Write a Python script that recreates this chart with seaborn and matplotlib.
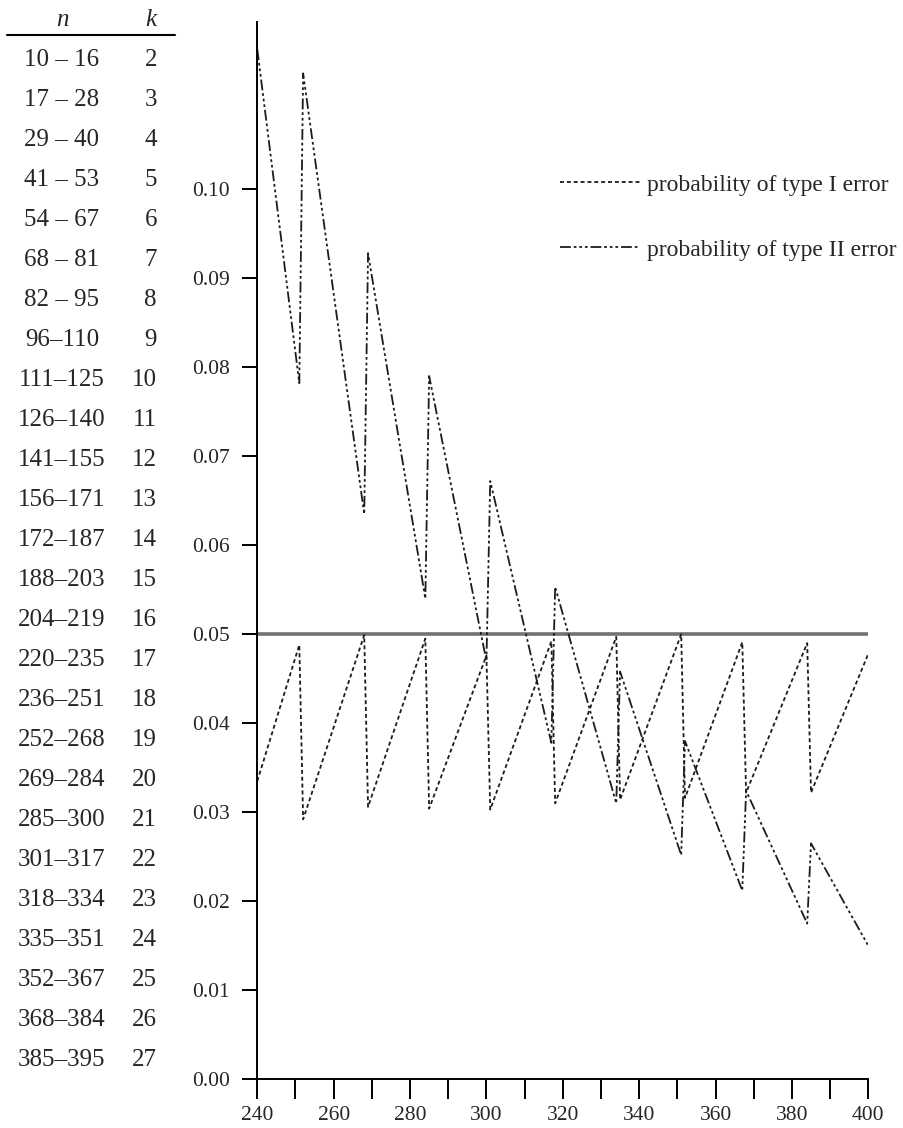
import numpy as np
import pandas as pd
import seaborn as sns
import matplotlib
matplotlib.use('Agg')
from matplotlib import pyplot as plt

# table of sample sizes n and critical values k
n_ranges = ['10 – 16', '17 – 28', '29 – 40', '41 – 53', '54 – 67', '68 – 81', '82 – 95',
            '96–110', '111–125', '126–140', '141–155', '156–171', '172–187', '188–203',
            '204–219', '220–235', '236–251', '252–268', '269–284', '285–300', '301–317',
            '318–334', '335–351', '352–367', '368–384', '385–395']
k_values = [2, 3, 4, 5, 6, 7, 8, 9, 10, 11, 12, 13, 14, 15, 16, 17, 18, 19, 20, 21,
            22, 23, 24, 25, 26, 27]

# error probabilities read at the jump points
n_points = [240, 251, 252, 268, 269, 284, 285, 300, 301, 317, 318, 334, 335, 351,
            352, 367, 368, 384, 385, 400]
type1 = [0.0335, 0.0488, 0.0292, 0.0499, 0.0306, 0.0495, 0.0304, 0.0476, 0.0303, 0.0492,
         0.0310, 0.0497, 0.0314, 0.0500, 0.0316, 0.0491, 0.0322, 0.0490, 0.0322, 0.0478]
type2 = [0.1157, 0.0782, 0.1130, 0.0635, 0.0928, 0.0540, 0.0790, 0.0470, 0.0672, 0.0378,
         0.0553, 0.0310, 0.0458, 0.0252, 0.0380, 0.0212, 0.0324, 0.0175, 0.0265, 0.0150]
alpha = 0.05

yticks = [0.00, 0.01, 0.02, 0.03, 0.04, 0.05, 0.06, 0.07, 0.08, 0.09, 0.10]
xticks_major = [240, 260, 280, 300, 320, 340, 360, 380, 400]
xticks_minor = [250, 270, 290, 310, 330, 350, 370, 390]

df = pd.DataFrame({'n': n_points, 'type1': type1, 'type2': type2})

sns.set_style('ticks')
plt.rcParams['font.family'] = ['Liberation Serif', 'DejaVu Serif']

fig = plt.figure(figsize=(9.04, 11.28), dpi=100)
ax = fig.add_axes([257.3 / 904, 1 - 1079.3 / 1128, (868.3 - 257.3) / 904, (1079.3 - 21.7) / 1128])

ax.axhline(alpha, color='#727272', linewidth=2.6, zorder=1)
sns.lineplot(x='n', y='type1', data=df, ax=ax, color='#1c1c1c', linewidth=1.3,
             linestyle=(0, (2.2, 1.6)), label='probability of type I error')
sns.lineplot(x='n', y='type2', data=df, ax=ax, color='#1c1c1c', linewidth=1.3,
             linestyle=(0, (6, 1.6, 1.5, 1.6, 1.5, 1.6, 1.5, 1.6)),
             label='probability of type II error')

ax.set_xlim(240, 400)
ax.set_ylim(0, 0.1188)
ax.set_xticks(xticks_major)
ax.set_xticks(xticks_minor, minor=True)
ax.set_yticks(yticks)
ax.set_yticklabels([f'{v:.2f}' for v in yticks])
ax.set_xlabel('')
ax.set_ylabel('')
sns.despine(ax=ax)
for s in ['left', 'bottom']:
    ax.spines[s].set_linewidth(1.4)
    ax.spines[s].set_color('black')
ax.tick_params(axis='y', length=11, width=1.4, pad=9, labelsize=15.5, color='black')
ax.tick_params(axis='x', which='both', length=14.5, width=1.4, pad=5, labelsize=15.5, color='black')

leg = ax.legend(loc='upper left', bbox_to_anchor=(560 / 904, 1 - 174 / 1128),
                bbox_transform=fig.transFigure, frameon=False, fontsize=17,
                handlelength=3.4, handletextpad=0.3, labelspacing=1.85,
                borderpad=0, borderaxespad=0)

# n / k table on the left
fig.text(62 / 904, 1 - 20 / 1128, 'n', ha='center', va='center', fontsize=18, style='italic')
fig.text(156 / 904, 1 - 20 / 1128, 'k', ha='right', va='center', fontsize=18, style='italic')
fig.add_artist(plt.Line2D([7 / 904, 175 / 904], [1 - 35 / 1128, 1 - 35 / 1128],
                          transform=fig.transFigure, color='black', linewidth=1.5))
for i, (nr, k) in enumerate(zip(n_ranges, k_values)):
    y = 1 - (60 + 40 * i) / 1128
    fig.text(62 / 904, y, nr, ha='center', va='center', fontsize=18)
    fig.text(157 / 904, y, str(k), ha='right', va='center', fontsize=18)

plt.savefig('out.png', dpi=100)
